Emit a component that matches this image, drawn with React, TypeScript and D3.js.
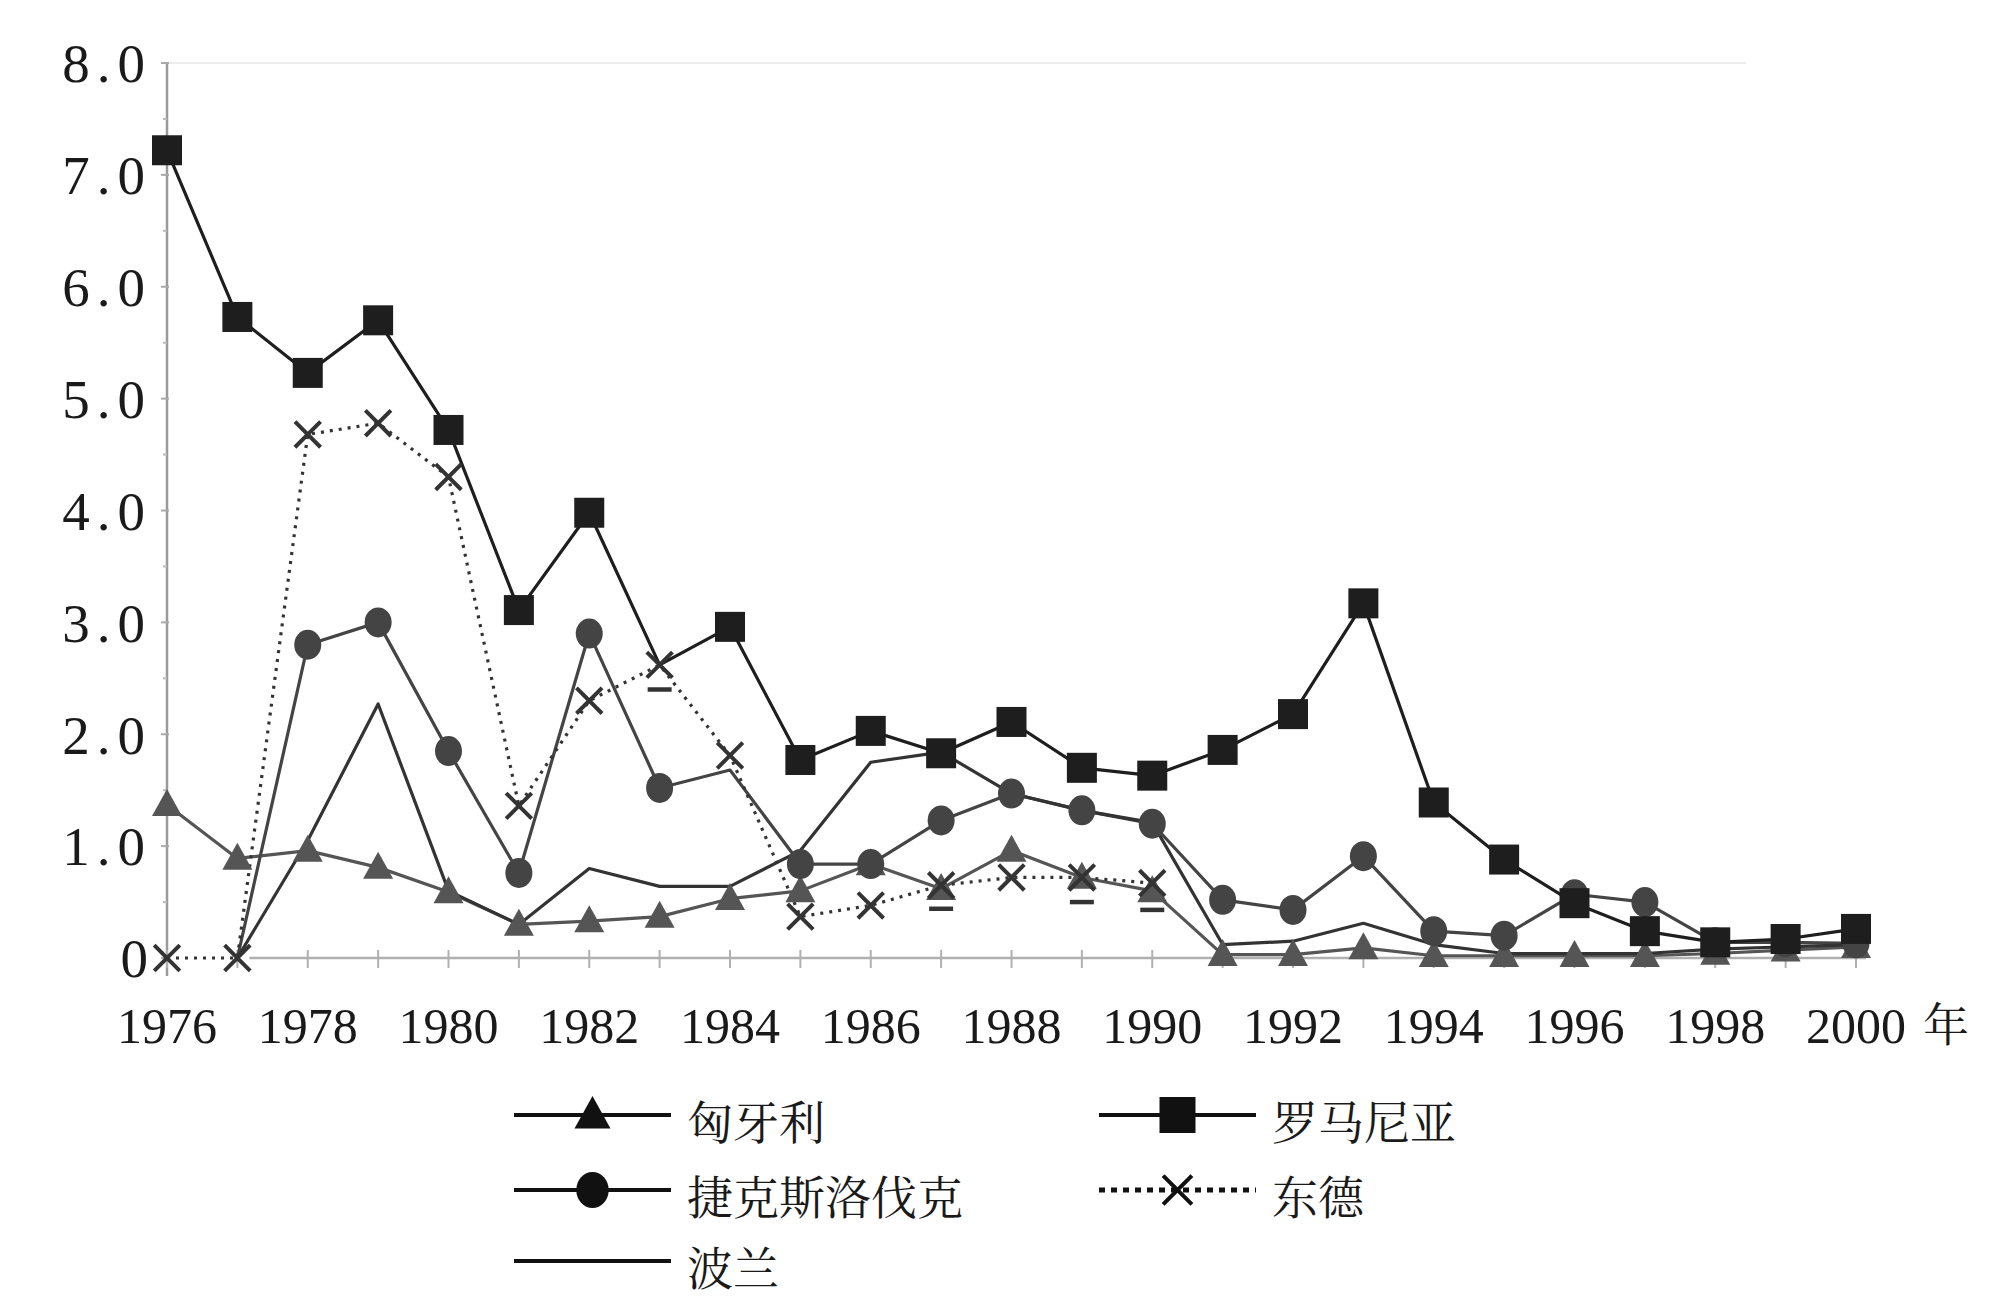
import React from 'react';
import * as d3 from 'd3';

// years on the x axis
const years = d3.range(1976, 2001);
const yearLabels = ['1976', '1978', '1980', '1982', '1984', '1986', '1988', '1990', '1992', '1994', '1996', '1998', '2000'];
const yTicks = [0, 1, 2, 3, 4, 5, 6, 7, 8];
const yTickLabels = ['0', '1.0', '2.0', '3.0', '4.0', '5.0', '6.0', '7.0', '8.0'];

// values per year, 1976..2000 (null = no value)
const hungary = [1.37, 0.89, 0.96, 0.81, 0.59, 0.3, 0.33, 0.37, 0.53, 0.6, 0.84, 0.62, 0.96, 0.72, 0.6, 0.03, 0.03, 0.09, 0.02, 0.02, 0.02, 0.02, 0.04, 0.07, 0.1];
const romania = [7.22, 5.73, 5.23, 5.7, 4.72, 3.11, 3.98, 2.62, 2.96, 1.77, 2.03, 1.83, 2.11, 1.7, 1.63, 1.86, 2.18, 3.17, 1.39, 0.88, 0.49, 0.24, 0.14, 0.17, 0.26];
const czecho = [null, 0, 2.8, 3.0, 1.85, 0.76, 2.9, 1.52, 1.68, 0.84, 0.84, 1.23, 1.47, 1.32, 1.2, 0.52, 0.43, 0.91, 0.24, 0.2, 0.57, 0.5, 0.14, 0.14, 0.13];
const eastGermany = [0, 0, 4.68, 4.78, 4.3, 1.36, 2.3, 2.62, 1.81, 0.37, 0.47, 0.65, 0.72, 0.72, 0.67, null, null, null, null, null, null, null, null, null, null];
const poland = [null, 0, 1.05, 2.27, 0.6, 0.3, 0.8, 0.64, 0.64, 0.96, 1.75, 1.84, 1.47, 1.32, 1.21, 0.12, 0.15, 0.31, 0.12, 0.04, 0.04, 0.04, 0.08, 0.1, 0.12];
// stray short dash marks printed under some east german points
const dashYears = [1983, 1987, 1989, 1990];
const dashValues = [2.4, 0.44, 0.5, 0.43];

// markers that are covered in the print
const romaniaHidden = [1983];
const czechoHidden = [1977, 1984];

type Marker = 'triangle' | 'square' | 'circle' | 'cross' | 'none';

const series = [
  { name: '匈牙利', values: hungary, marker: 'triangle' as Marker, color: '#555', dash: '', hidden: [] as number[] },
  { name: '捷克斯洛伐克', values: czecho, marker: 'circle' as Marker, color: '#444', dash: '', hidden: czechoHidden },
  { name: '波兰', values: poland, marker: 'none' as Marker, color: '#333', dash: '', hidden: [] as number[] },
  { name: '东德', values: eastGermany, marker: 'cross' as Marker, color: '#333', dash: '3 6', hidden: [] as number[] },
  { name: '罗马尼亚', values: romania, marker: 'square' as Marker, color: '#1e1e1e', dash: '', hidden: romaniaHidden },
];

const legendLayout = [
  { name: '匈牙利', col: 0, row: 0 },
  { name: '罗马尼亚', col: 1, row: 0 },
  { name: '捷克斯洛伐克', col: 0, row: 1 },
  { name: '东德', col: 1, row: 1 },
  { name: '波兰', col: 0, row: 2 },
];

const SERIF = '"Liberation Serif", "DejaVu Serif", serif';
const CJK = '"Noto Serif CJK SC", "Noto Sans CJK SC", sans-serif';

function drawMarker(kind: Marker, cx: number, cy: number, size: number, color: string, key?: string) {
  const h = size / 2;
  if (kind === 'triangle') {
    const p = `M${cx},${cy - h * 1.05} L${cx + h},${cy + h * 0.75} L${cx - h},${cy + h * 0.75} Z`;
    return <path key={key} d={p} fill={color} />;
  }
  if (kind === 'square') {
    return <rect key={key} x={cx - h} y={cy - h} width={size} height={size} fill={color} />;
  }
  if (kind === 'circle') {
    return <ellipse key={key} cx={cx} cy={cy} rx={h * 0.9} ry={h} fill={color} />;
  }
  if (kind === 'cross') {
    const r = h * 0.8;
    return (
      <path
        key={key}
        d={`M${cx - r},${cy - r} L${cx + r},${cy + r} M${cx + r},${cy - r} L${cx - r},${cy + r}`}
        stroke={color}
        strokeWidth={4}
        fill="none"
      />
    );
  }
  return null;
}

const App: React.FC = () => {
  const width = 1994;
  const height = 1308;
  const x = d3.scaleLinear().domain([1976, 2000]).range([167, 1856]);
  const y = d3.scaleLinear().domain([0, 8]).range([958, 63]);

  const line = d3
    .line<number | null>()
    .defined((d) => d !== null)
    .x((_, i) => x(years[i]))
    .y((d) => y(d as number));

  const halfTicks = d3.range(0.5, 8, 1);

  return (
    <svg
      width={width}
      height={height}
      style={{ position: 'absolute', left: 0, top: 0, background: '#fff' }}
    >
      {/* faint top frame line */}
      <line x1={x(1976)} x2={x(2000) - 110} y1={y(8)} y2={y(8)} stroke="#ececec" strokeWidth={2} />

      {/* y axis */}
      <line x1={x(1976)} x2={x(1976)} y1={y(8)} y2={y(0) + 18} stroke="#9a9a9a" strokeWidth={2.5} />
      {yTicks.map((t) => (
        <line key={`yt${t}`} x1={x(1976) - 6} x2={x(1976) + 2} y1={y(t)} y2={y(t)} stroke="#aaa" strokeWidth={2} />
      ))}
      {halfTicks.map((t) => (
        <line key={`yh${t}`} x1={x(1976) - 4} x2={x(1976)} y1={y(t)} y2={y(t)} stroke="#bbb" strokeWidth={2} />
      ))}
      {yTicks.map((t, i) => (
        <text
          key={`yl${t}`}
          x={t === 0 ? 155 : 152}
          y={y(t)}
          dy="0.35em"
          textAnchor="end"
          fontFamily={SERIF}
          fontSize={55}
          letterSpacing={7}
          fill="#1a1a1a"
        >
          {yTickLabels[i]}
        </text>
      ))}

      {/* x axis */}
      <line x1={x(1977) + 12} x2={x(2000) + 10} y1={y(0)} y2={y(0)} stroke="#b0b0b0" strokeWidth={2.5} />
      {years.map((yr) => (
        <line key={`xt${yr}`} x1={x(yr)} x2={x(yr)} y1={y(0) - 8} y2={y(0) + 10} stroke="#b0b0b0" strokeWidth={2} />
      ))}
      {yearLabels.map((lab) => (
        <text
          key={`xl${lab}`}
          x={x(+lab)}
          y={1043}
          textAnchor="middle"
          fontFamily={SERIF}
          fontSize={50}
          fill="#1a1a1a"
        >
          {lab}
        </text>
      ))}
      <text x={1946} y={1041} textAnchor="middle" fontFamily={CJK} fontSize={46} fill="#1a1a1a">
        年
      </text>

      {/* series lines */}
      {series.map((s) => (
        <path
          key={`l${s.name}`}
          d={line(s.values) || ''}
          fill="none"
          stroke={s.color}
          strokeWidth={3.2}
          strokeDasharray={s.dash || undefined}
          strokeLinejoin="round"
        />
      ))}

      {/* series markers */}
      {series.map((s) =>
        s.values.map((v, i) =>
          v === null || s.hidden.includes(years[i])
            ? null
            : drawMarker(s.marker, x(years[i]), y(v), s.marker === 'cross' ? 32 : 30, s.color, `m${s.name}${i}`)
        )
      )}

      {/* dash marks */}
      {dashYears.map((yr, i) => (
        <line
          key={`d${yr}`}
          x1={x(yr) - 12}
          x2={x(yr) + 12}
          y1={y(dashValues[i])}
          y2={y(dashValues[i])}
          stroke="#333"
          strokeWidth={4.5}
        />
      ))}

      {/* legend */}
      {legendLayout.map((l) => {
        const s = series.find((d) => d.name === l.name)!;
        const lx0 = l.col === 0 ? 514 : 1099;
        const lx1 = lx0 + 157;
        const ly = [1115, 1190, 1261][l.row];
        const cx = (lx0 + lx1) / 2;
        return (
          <g key={`lg${l.name}`}>
            <line
              x1={lx0}
              x2={lx1}
              y1={ly}
              y2={ly}
              stroke="#111"
              strokeWidth={s.dash ? 5 : 4}
              strokeDasharray={s.dash ? '6 6' : undefined}
            />
            {drawMarker(s.marker, cx, ly, 36, '#111')}
            <text
              x={lx1 + 16}
              y={ly + 8}
              dy="0.35em"
              fontFamily={CJK}
              fontSize={46}
              fill="#1a1a1a"
            >
              {l.name}
            </text>
          </g>
        );
      })}
    </svg>
  );
};

export default App;
